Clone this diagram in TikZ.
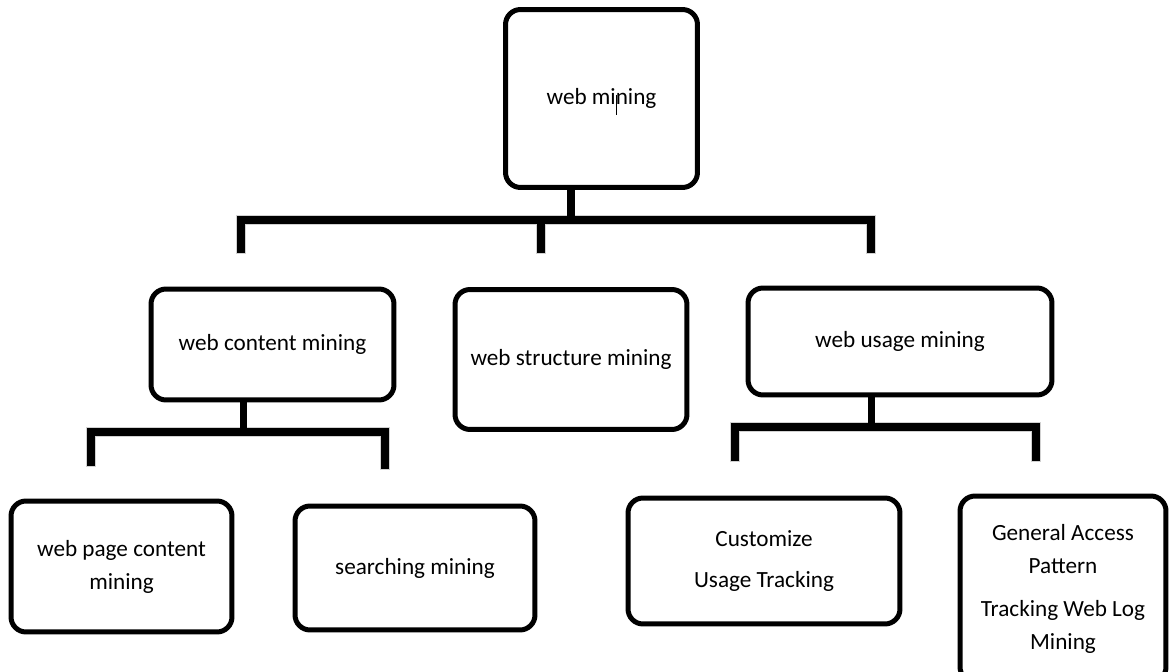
\documentclass[tikz,border=0pt]{standalone}
\usepackage{fontspec}
\setmainfont{Carlito}
\begin{document}
\begin{tikzpicture}[x=0.02cm,y=-0.02cm,
  box/.style={draw=black, line width=0.1cm, rounded corners=0.3cm, fill=white,
    align=center, inner sep=0pt, font=\fontsize{13.2}{18.8}\selectfont},
  conn/.style={draw=black, line width=0.15cm, line join=miter, line cap=rect},
  shade/.style={draw=black!18, line width=0.2cm, line join=miter, line cap=rect}]
\useasboundingbox (0,0) rectangle (1170,672);
\clip (0,0) rectangle (1170,672);
% nodes
\node[box, minimum width=3.84cm, minimum height=3.56cm] (root) at (601.5,98.5) {web mining};
\node[box, minimum width=4.86cm, minimum height=2.22cm] (wcm) at (272.5,344.5) {web content mining};
\node[box, minimum width=4.64cm, minimum height=2.8cm] (wsm) at (571,359.5) {web structure mining};
\node[box, minimum width=6.08cm, minimum height=2.14cm] (wum) at (900,341.5) {web usage mining};
\node[box, minimum width=4.42cm, minimum height=2.62cm] (wpc) at (121.5,566.5) {web page content\\mining};
\node[box, minimum width=4.8cm, minimum height=2.48cm] (srch) at (415,568) {searching mining};
\node[box, minimum width=5.44cm, minimum height=2.52cm] (cust) at (764,561) {Customize\\[4pt]Usage Tracking};
\node[box, minimum width=4.12cm, minimum height=3.72cm] (gen) at (1063,589) {General Access\\Pattern\\[6pt]Tracking Web Log\\Mining};
% text cursor artifact
\draw[line width=0.5pt] (616,95) -- (616,115);
% connector coordinates
\coordinate (r1) at (571,220);
\coordinate (bl) at (241,220);
\coordinate (br) at (871,220);
\coordinate (dl) at (241,249);
\coordinate (dm) at (541,249);
\coordinate (dr) at (871,249);
\coordinate (bm) at (541,220);
\coordinate (c1) at (243.5,432);
\coordinate (cl) at (91,432);
\coordinate (cr) at (385,432);
\coordinate (cdl) at (91,462);
\coordinate (cdr) at (385,465);
\coordinate (u1) at (871.5,427);
\coordinate (ul) at (735,427);
\coordinate (ur) at (1036,427);
\coordinate (udl) at (735,457);
\coordinate (udr) at (1036,457);
% shadows
\begin{scope}[shift={(2,4)}]
\draw[shade] (dl) -- (bl) -- (br) -- (dr);
\draw[shade] (bm) -- (dm);
\draw[shade] (cdl) -- (cl) -- (cr) -- (cdr);
\draw[shade] (udl) -- (ul) -- (ur) -- (udr);
\end{scope}
% connectors
\draw[conn] (root.south -| r1) -- (r1);
\draw[conn] (dl) -- (bl) -- (br) -- (dr);
\draw[conn] (bm) -- (dm);
\draw[conn] (wcm.south -| c1) -- (c1);
\draw[conn] (cdl) -- (cl) -- (cr) -- (cdr);
\draw[conn] (wum.south -| u1) -- (u1);
\draw[conn] (udl) -- (ul) -- (ur) -- (udr);
\end{tikzpicture}
\end{document}
